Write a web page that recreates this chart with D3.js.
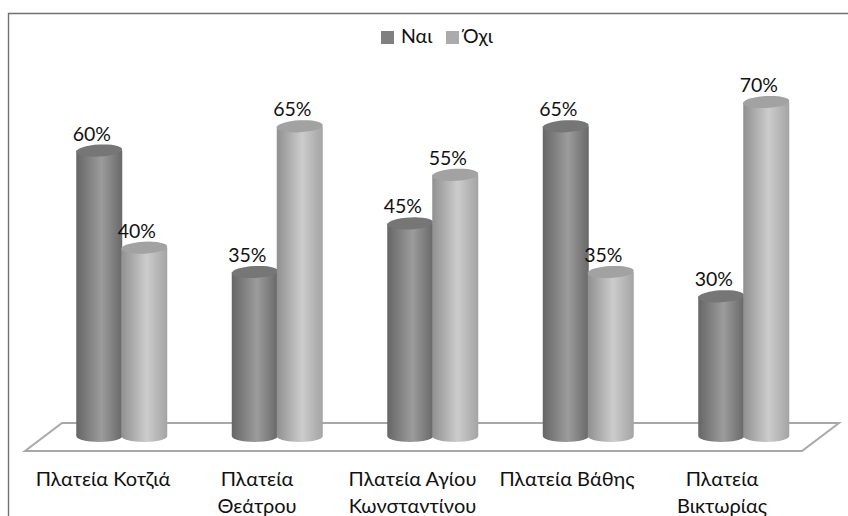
<!DOCTYPE html>
<html><head><meta charset="utf-8">
<script src="https://cdn.jsdelivr.net/npm/d3@7/dist/d3.min.js"></script>
<style>html,body{margin:0;background:#fff}svg{display:block}text{font-family:Lato,"Open Sans","Noto Sans",sans-serif;fill:#111}</style>
</head><body><svg id="c" width="848" height="516"></svg>
<script>
const categories=[["Πλατεία Κοτζιά"],["Πλατεία","Θεάτρου"],["Πλατεία Αγίου","Κωνσταντίνου"],["Πλατεία Βάθης"],["Πλατεία","Βικτωρίας"]];
const labelCenters=[103,257,412.5,567,722];
const seriesNames=["Ναι","Όχι"];
const legendX=[381,446];
const nai=[60,35,45,65,30];
const ochi=[40,65,55,35,70];
const svg=d3.select("#c");
const y=d3.scaleLinear().domain([0,70]).range([442,102]);
const x=d3.scaleBand().domain(d3.range(5)).range([44,821.5]);
const defs=svg.append("defs");
function grad(id,stops){const g=defs.append("linearGradient").attr("id",id);stops.forEach(s=>g.append("stop").attr("offset",s[0]).attr("stop-color",s[1]));}
grad("g0",[[0,"#666666"],[.55,"#9c9c9c"],[1,"#686868"]]);
grad("g1",[[0,"#909090"],[.55,"#cccccc"],[1,"#a4a4a4"]]);
const topColors=["#767676","#a2a2a2"];
const legendColors=["#808080","#ababab"];
svg.append("path").attr("d","M8.5,516V13.5H848").attr("fill","none").attr("stroke","#707070").attr("stroke-width",1.4);
svg.append("path").attr("d","M25,451L62,423H839L802,451Z").attr("fill","#fff").attr("stroke","#a8a8a8").attr("stroke-width",2);
const rx=23,ry=6;
[nai,ochi].forEach((vals,s)=>{
  vals.forEach((v,i)=>{
    const cx=x(i)+x.bandwidth()/2+(s-.5)*45, top=y(v), bot=436;
    svg.append("path").attr("d",`M${cx-rx},${top}V${bot}A${rx},${ry} 0 0 0 ${cx+rx},${bot}V${top}Z`).attr("fill",`url(#g${s})`);
    svg.append("ellipse").attr("cx",cx).attr("cy",top).attr("rx",rx).attr("ry",ry).attr("transform",`rotate(-3 ${cx} ${top})`).attr("fill",topColors[s]);
    svg.append("text").attr("x",cx-7.5).attr("y",top-10).attr("text-anchor","middle").attr("font-size",19.5).text(v+"%");
  });
});
categories.forEach((lines,i)=>{
  const t=svg.append("text").attr("text-anchor","middle").attr("font-size",20);
  lines.forEach((l,k)=>t.append("tspan").attr("x",labelCenters[i]).attr("y",486+k*27).text(l));
});
seriesNames.forEach((n,i)=>{
  svg.append("rect").attr("x",legendX[i]).attr("y",31).attr("width",13).attr("height",13).attr("fill",legendColors[i]);
  svg.append("text").attr("x",legendX[i]+[20,17][i]).attr("y",43).attr("font-size",19.5).text(n);
});
</script></body></html>
